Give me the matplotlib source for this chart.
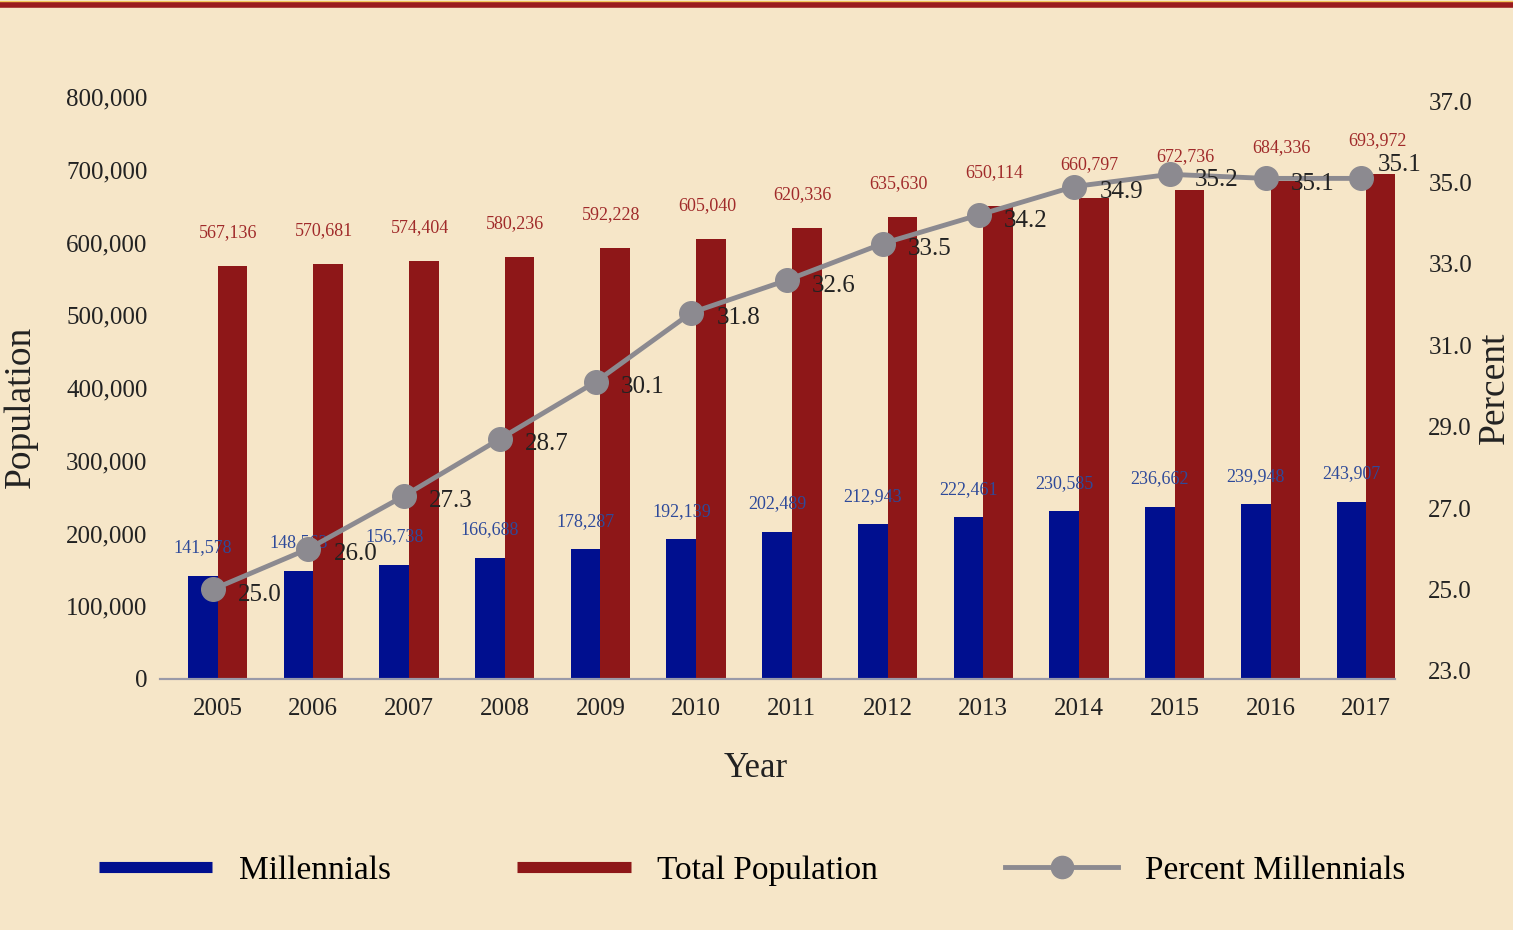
import numpy as np
import matplotlib
matplotlib.use("Agg")
import matplotlib.pyplot as plt
from matplotlib.lines import Line2D

years = ["2005", "2006", "2007", "2008", "2009", "2010", "2011",
         "2012", "2013", "2014", "2015", "2016", "2017"]
millennials = [141578, 148563, 156738, 166688, 178287, 192139, 202489,
               212943, 222461, 230585, 236662, 239948, 243907]
total_pop = [567136, 570681, 574404, 580236, 592228, 605040, 620336,
             635630, 650114, 660797, 672736, 684336, 693972]
pct_millennials = [25.0, 26.0, 27.3, 28.7, 30.1, 31.8, 32.6,
                   33.5, 34.2, 34.9, 35.2, 35.1, 35.1]

bg = "#f6e6c8"
blue = "#000f8f"
red = "#8e1718"
gray = "#8c8a90"
plt.rcParams['font.family'] = ['Liberation Serif', 'DejaVu Serif']

fig = plt.figure(figsize=(15.13, 9.3), dpi=100, facecolor=bg)
ax = fig.add_axes([0.1058, 0.2699, 0.8162, 0.6258])
ax.set_facecolor(bg)
ax2 = ax.twinx()

x = np.arange(len(years))
w = 0.31
ax.bar(x - w / 2, millennials, width=w, color=blue, label="Millennials", zorder=2)
ax.bar(x + w / 2, total_pop, width=w, color=red, label="Total Population", zorder=2)

for xi, v in zip(x, millennials):
    ax.annotate(f"{v:,}", (xi - w / 2, v), xytext=(0, 14), textcoords="offset points",
                ha="center", va="bottom", fontsize=13, color="#2e4a9a")
for xi, v in zip(x, total_pop):
    ax.annotate(f"{v:,}", (xi + w / 2, v), xytext=(-3, 24), textcoords="offset points",
                ha="center", va="center", fontsize=13, color="#a02a2a")

ax2.plot(x - 0.05, pct_millennials, color=gray, lw=3.5, marker="o", ms=17,
         label="Percent Millennials", zorder=3)
for i, (xi, v) in enumerate(zip(x, pct_millennials)):
    off = (12, 10) if i == len(x) - 1 else (18, -4)
    ax2.annotate(f"{v:.1f}", (xi - 0.05, v), xytext=off, textcoords="offset points",
                 ha="left", va="center", fontsize=18, color="#222222")

ax.set_xlim(-0.6, 12.3)
ax.set_ylim(0, 800000)
ax.set_yticks(np.arange(0, 800001, 100000))
ax.set_yticklabels([f"{int(t):,}" for t in np.arange(0, 800001, 100000)])
ax.set_xticks(x)
ax.set_xticklabels(years)
ax2.set_ylim(22.8, 37.1)
ax2.set_yticks(np.arange(23, 37.1, 2))
ax2.set_yticklabels([f"{t:.1f}" for t in np.arange(23, 37.1, 2)])

for a in (ax, ax2):
    for s in ("top", "left", "right"):
        a.spines[s].set_visible(False)
    a.spines["bottom"].set_color("#9a9aa8")
    a.spines["bottom"].set_linewidth(1.5)
ax.tick_params(axis="both", length=0, labelsize=18, colors="#222222")
ax.tick_params(axis="y", pad=9)
ax.tick_params(axis="x", pad=14)
ax2.tick_params(axis="y", length=0, labelsize=18, colors="#222222", pad=24)

ax.set_ylabel("Population", fontsize=27, color="#222222")
ax.yaxis.set_label_coords(-0.099, 0.467)
ax2.set_ylabel("Percent", fontsize=27, labelpad=4, color="#222222")
ax.set_xlabel("Year", fontsize=25, color="#222222")
ax.xaxis.set_label_coords(0.482, -0.125)

handles = [Line2D([], [], color=blue, lw=8, solid_capstyle="butt"),
           Line2D([], [], color=red, lw=8, solid_capstyle="butt"),
           Line2D([], [], color=gray, lw=3.5, marker="o", ms=16)]
fig.legend(handles, ["Millennials", "Total Population", "Percent Millennials"],
           loc="center", bbox_to_anchor=(0.497, 0.064), ncol=3, frameon=False,
           fontsize=24, handlelength=3.4, handletextpad=0.8, columnspacing=3.8)

# top border
fig.add_artist(Line2D([0, 1], [0.9975, 0.9975], transform=fig.transFigure, color="#f2c65a", lw=1.5))
fig.add_artist(Line2D([0, 1], [0.9945, 0.9945], transform=fig.transFigure, color="#9a1b1e", lw=4))

fig.savefig("out.png", dpi=100, facecolor=bg)
